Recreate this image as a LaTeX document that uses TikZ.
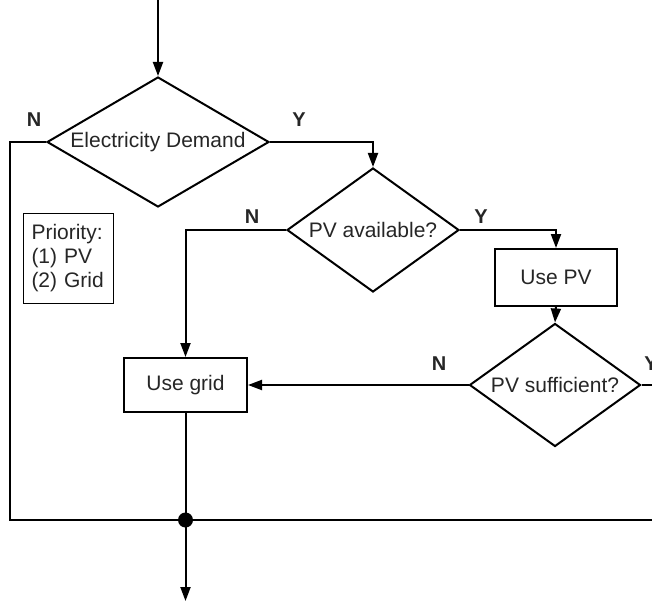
\documentclass[tikz,border=0pt]{standalone}
\usepackage{fontspec}
\setmainfont{Liberation Sans}
\usetikzlibrary{shapes.geometric,arrows.meta}
\begin{document}
\begin{tikzpicture}[x=1pt,y=-1pt,
  line width=2pt,
  every node/.style={font=\fontsize{21}{24}\selectfont, text=black!85},
  dia/.style={draw, shape=diamond, inner sep=0pt},
  box/.style={draw, rectangle, inner sep=0pt},
  lab/.style={font=\fontsize{20}{24}\selectfont\bfseries},
  arr/.style={-{Triangle[length=14pt,width=10pt]}},
  dot/.style={circle, fill=black, inner sep=0pt, minimum size=15pt}
]
\useasboundingbox (0,0) rectangle (652,604);
% nodes
\node[dia, aspect=1.71, minimum width=222pt, minimum height=130pt] (d1) at (158,142) {Electricity Demand};
\node[dia, aspect=1.39, minimum width=172pt, minimum height=124pt] (d2) at (373,230) {PV available?};
\node[box, minimum width=122pt, minimum height=57pt] (pv) at (556,277.5) {Use PV};
\node[dia, aspect=1.39, minimum width=171pt, minimum height=123pt] (d3) at (555,385) {PV sufficient?};
\node[box, minimum width=123pt, minimum height=54pt] (grid) at (185.5,385) {Use grid};
\node[draw, anchor=north west, line width=1pt, inner xsep=8pt, text width=74pt, align=left, minimum height=90pt] (prio) at (23,213) {Priority:\\(1) PV\\(2) Grid};
\node[dot] (j) at (185.5,520) {};
% labels
\node[lab] (n1) at (34,120) {N};
\node[lab] (y1) at (299,120) {Y};
\node[lab] (n2) at (252,217) {N};
\node[lab] (y2) at (481,217) {Y};
\node[lab] (n3) at (439,364) {N};
\node[lab] (y3) at (651,364) {Y};
% coordinates
\coordinate (start) at (158,0);
\coordinate (endp) at (185.5,601);
\coordinate (lc) at (10,520);
\coordinate (rc) at (670,520);
% connectors
\draw[arr] (start) -- (d1.north);
\draw[arr] (d1.east) -| (d2.north);
\draw (d1.west) -| (lc) -- (j.center);
\draw[arr] (d2.east) -| (pv.north);
\draw[arr] (d2.west) -| (grid.north);
\draw[arr] (pv.south) -- (d3.north);
\draw[arr] (d3.west) -- (grid.east);
\draw (d3.east) -| (rc) -- (j.center);
\draw (grid.south) -- (j.center);
\draw[arr] (j.center) -- (endp);
\end{tikzpicture}
\end{document}
